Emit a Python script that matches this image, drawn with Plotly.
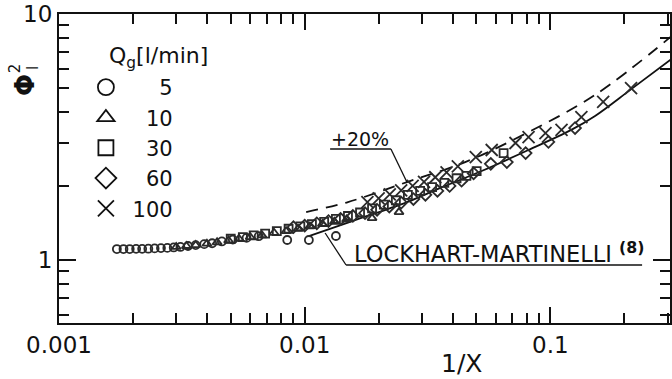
import plotly.graph_objects as go

W, H = 672, 379
ML, MR, MT, MB = 59, 0, 14, 56
PW = W - ML - MR
PH = H - MT - MB


def px(x):
    return (x - ML) / PW


def py(y):
    return (H - MB - y) / PH


FONT = "DejaVu Sans"
INK = "#111111"
MK = "#2a2a2a"

# ---------------- data ----------------
q5_x = [0.00172, 0.00183, 0.00194, 0.00206, 0.00218, 0.00231, 0.00245, 0.00260,
        0.00276, 0.00293, 0.00312, 0.00335, 0.0036, 0.0039, 0.0042, 0.0046,
        0.0051, 0.0058, 0.0065, 0.00849, 0.0104, 0.0134]
q5_y = [1.108, 1.108, 1.108, 1.110, 1.110, 1.112, 1.115, 1.118,
        1.120, 1.125, 1.130, 1.140, 1.150, 1.160, 1.170, 1.190,
        1.210, 1.230, 1.250, 1.206, 1.206, 1.252]

q10_x = [0.0030, 0.0033, 0.0036, 0.0040, 0.0044, 0.0049, 0.0054, 0.0060, 0.0067,
         0.0075, 0.0084, 0.0094, 0.0105, 0.0118, 0.0132, 0.0148, 0.0188, 0.0242]
q10_y = [1.13, 1.14, 1.15, 1.165, 1.18, 1.20, 1.22, 1.24, 1.26,
         1.29, 1.31, 1.34, 1.37, 1.40, 1.43, 1.46, 1.48, 1.566]

q30_x = [0.0050, 0.0056, 0.0062, 0.0069, 0.0077, 0.0086, 0.0096, 0.0107, 0.0120,
         0.0134, 0.0150, 0.0168, 0.0188, 0.0210, 0.0235, 0.0263, 0.0295, 0.0330,
         0.0370, 0.0415, 0.0455, 0.0501, 0.0645]
q30_y = [1.22, 1.24, 1.26, 1.28, 1.31, 1.34, 1.37, 1.40, 1.43,
         1.47, 1.51, 1.56, 1.62, 1.68, 1.75, 1.84, 1.91, 1.98,
         2.06, 2.15, 2.20, 2.30, 2.72]

q60_x = [0.0090, 0.0100, 0.0112, 0.0125, 0.0140, 0.0157, 0.0176, 0.0197, 0.0221,
         0.0247, 0.0277, 0.0310, 0.0347, 0.0389, 0.0435, 0.0487, 0.0572, 0.0665,
         0.0793, 0.0982, 0.126]
q60_y = [1.36, 1.38, 1.41, 1.44, 1.47, 1.51, 1.55, 1.60, 1.65,
         1.71, 1.77, 1.84, 1.91, 2.00, 2.10, 2.25, 2.46, 2.50,
         2.72, 3.02, 3.44]

q100_x = [0.0180, 0.0200, 0.0222, 0.0247, 0.0275, 0.0306, 0.0340, 0.0378, 0.0420,
          0.0497, 0.0577, 0.0721, 0.0815, 0.0955, 0.111, 0.1337, 0.164, 0.213]
q100_y = [1.72, 1.78, 1.85, 1.92, 2.00, 2.08, 2.17, 2.27, 2.40,
          2.62, 2.80, 2.99, 3.16, 3.28, 3.38, 3.81, 4.39, 5.00]

lm_x = [0.0104, 0.0150, 0.0261, 0.0351, 0.0525, 0.0814, 0.1216, 0.152, 0.2134, 0.31]
lm_y = [1.25, 1.42, 1.72, 1.95, 2.30, 2.80, 3.38, 3.85, 4.95, 6.55]

p20_x = [0.01014, 0.0150, 0.0261, 0.0450, 0.0814, 0.152, 0.31]
p20_y = [1.567, 1.72, 2.075, 2.50, 3.31, 4.69, 8.10]

legend_names = ["\u2007\u20075", "\u200710", "\u200730", "\u200760", "100"]
legend_symbols = ["circle-open", "triangle-up-open", "square-open", "diamond-open", "x-thin-open"]
legend_sizes = [17, 15, 15, 16, 16]

x_tickvals = [0.001, 0.01, 0.1]
x_ticktext = ["0.001", "0.01", "0.1"]
x_minor = [0.002, 0.003, 0.004, 0.005, 0.006, 0.007, 0.008, 0.009,
           0.02, 0.03, 0.04, 0.05, 0.06, 0.07, 0.08, 0.09, 0.2, 0.3]
y_tickvals = [1, 10]
y_ticktext = ["1", "10"]
y_minor = [0.6, 0.7, 0.8, 0.9, 2, 3, 4, 5, 6, 7, 8, 9]

# ---------------- figure ----------------
fig = go.Figure()

fig.add_trace(go.Scatter(x=lm_x, y=lm_y, mode="lines", line=dict(color=INK, width=1.8, shape="spline"),
                         showlegend=False, hoverinfo="skip"))
fig.add_trace(go.Scatter(x=p20_x, y=p20_y, mode="lines",
                         line=dict(color=INK, width=1.8, dash="12px,8px", shape="spline"),
                         showlegend=False, hoverinfo="skip"))

series = [(q5_x, q5_y, "circle-open", 8, 1.8),
          (q10_x, q10_y, "triangle-up-open", 8, 1.8),
          (q30_x, q30_y, "square-open", 8, 1.8),
          (q60_x, q60_y, "diamond-open", 9, 1.8),
          (q100_x, q100_y, "x-thin-open", 12, 1.8)]
for sx, sy, sym, sz, lw in series:
    fig.add_trace(go.Scatter(x=sx, y=sy, mode="markers", showlegend=False,
                             marker=dict(symbol=sym, size=sz, color=MK, line=dict(color=MK, width=lw))))

for name, sym, sz in zip(legend_names, legend_symbols, legend_sizes):
    fig.add_trace(go.Scatter(x=[None], y=[None], mode="markers", name=" " + name,
                             marker=dict(symbol=sym, size=sz, color=INK, line=dict(color=INK, width=1.8))))

axis_common = dict(type="log", showgrid=False, zeroline=False, showline=True, linecolor=INK, linewidth=2,
                   mirror="ticks", ticks="inside", tickwidth=2, tickcolor=INK,
                   tickfont=dict(family=FONT, size=23, color=INK))

fig.update_xaxes(**axis_common, range=[-3, -3 + PW / 246.5], tickvals=x_tickvals, ticktext=x_ticktext,
                 ticklen=16, minor=dict(ticks="inside", ticklen=10, tickwidth=2, tickcolor=INK, tickvals=x_minor))
fig.update_yaxes(**axis_common, range=[-0.256, 1.0], tickvals=y_tickvals, ticktext=y_ticktext,
                 ticklen=17, minor=dict(ticks="inside", ticklen=10, tickwidth=2, tickcolor=INK, tickvals=y_minor))

shapes = []
def seg(x0, y0, x1, y1):
    shapes.append(dict(type="line", xref="paper", yref="paper", x0=px(x0), y0=py(y0), x1=px(x1), y1=py(y1),
                       line=dict(color=INK, width=1.3)))

seg(331, 149, 392, 149)
seg(392, 149, 408, 182)
seg(347, 265, 644, 265)
seg(347, 265, 326, 233)

ann = []
def label(x, y, text, size, xanchor="center", angle=0):
    ann.append(dict(xref="paper", yref="paper", x=px(x), y=py(y), text=text, showarrow=False,
                    xanchor=xanchor, yanchor="middle", textangle=angle,
                    font=dict(family=FONT, size=size, color=INK)))

label(107, 57, "Q<sub>g</sub>[l/min]", 22, xanchor="left")
label(361, 139, "+20%", 19)
label(353, 252, "LOCKHART-MARTINELLI <sup><b>(8)</b></sup>", 22.5, xanchor="left")
label(463, 363, "1/X", 25)
label(25, 85, "<b>Φ</b>", 26, angle=-90)
label(15, 68, "2", 15, angle=-90)
label(33, 68, "l", 15, angle=-90)

fig.update_layout(
    width=W, height=H, margin=dict(l=ML, r=MR, t=MT, b=MB, pad=0),
    paper_bgcolor="white", plot_bgcolor="white",
    showlegend=True,
    legend=dict(x=px(86), y=py(67), xanchor="left", yanchor="top", bgcolor="rgba(0,0,0,0)",
                font=dict(family=FONT, size=21, color=INK), itemsizing="trace", tracegroupgap=0),
    shapes=shapes, annotations=ann,
)

fig.write_html("out.html")
